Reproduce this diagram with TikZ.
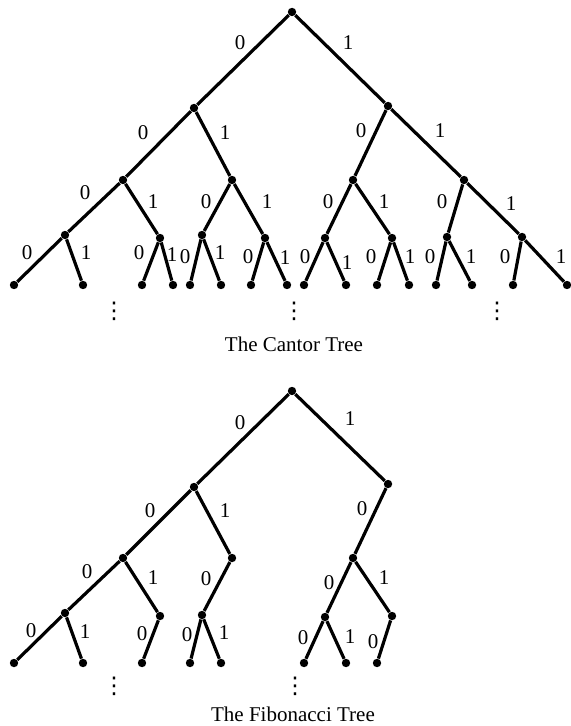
\documentclass[tikz,border=0pt]{standalone}
\usepackage{fontspec}
\setmainfont{Liberation Serif}
\newfontfamily\symfont{DejaVu Sans}
\usepackage{tikz}

\begin{document}
\begin{tikzpicture}[
  x=0.5pt, y=-0.5pt,
  vtx/.style={circle, fill, inner sep=0pt, minimum size=4.2pt},
  br/.style={line width=1.6pt},
  lbl/.style={inner sep=0pt, font=\fontsize{10.5}{12}\selectfont},
  title/.style={inner sep=0pt, font=\fontsize{10.5}{12}\selectfont},
  cont/.style={inner sep=0pt, font=\symfont\fontsize{11.5}{12}\selectfont}
]
\useasboundingbox (0,0) rectangle (570,726);

% Cantor tree: vertices
\foreach \n/\x/\y in {r/292/12, 0/194/108, 1/388/106,
    00/123/180, 01/232/180, 10/353/180, 11/464/180,
    000/65/235, 001/160/238, 010/202/235, 011/265/238,
    100/325/238, 101/392/238, 110/447/237, 111/522/237,
    0000/14/285, 0001/83/285, 0010/142/285, 0011/173/285,
    0100/190/285, 0101/221/285, 0110/251/285, 0111/287/285,
    1000/304/285, 1001/346/285, 1010/377/285, 1011/409/285,
    1100/436/285, 1101/472/285, 1110/513/285, 1111/567/285}
  \node[vtx] (c\n) at (\x,\y) {};

% Cantor tree: branches and digits
\foreach \p/\c/\t/\lx/\ly in {r/0/0/240/43, r/1/1/348/43,
    0/00/0/143/133, 0/01/1/225/133, 1/10/0/361/131, 1/11/1/440/131,
    00/000/0/85/193, 00/001/1/153/202, 01/010/0/206/202, 01/011/1/267/202,
    10/100/0/328/202, 10/101/1/384/202, 11/110/0/442/202, 11/111/1/511/204,
    000/0000/0/27/253, 000/0001/1/86/253, 001/0010/0/139/253, 001/0011/1/172/255,
    010/0100/0/185/257, 010/0101/1/220/253, 011/0110/0/248/257, 011/0111/1/285/258,
    100/1000/0/305/257, 100/1001/1/347/263, 101/1010/0/371/257, 101/1011/1/410/257,
    110/1100/0/430/257, 110/1101/1/471/257, 111/1110/0/505/257, 111/1111/1/561/257}
{
  \draw[br] (c\p) -- (c\c);
  \node[lbl] (lc\c) at (\lx,\ly) {\t};
}

\node[cont] (cdots1) at (114,311) {⋮};
\node[cont] (cdots2) at (294,311) {⋮};
\node[cont] (cdots3) at (497,311) {⋮};
\node[title] (ccap) at (294,344) {The Cantor Tree};

% Fibonacci tree: vertices
\foreach \n/\x/\y in {r/292/391, 0/194/487, 1/388/484,
    00/123/558, 01/232/558, 10/353/558,
    000/65/613, 001/160/616, 010/202/615, 100/325/617, 101/392/616,
    0000/14/663, 0001/83/663, 0010/142/663, 0100/190/663,
    0101/221/663, 1000/304/663, 1001/346/663, 1010/377/663}
  \node[vtx] (f\n) at (\x,\y) {};

% Fibonacci tree: branches and digits
\foreach \p/\c/\t/\lx/\ly in {r/0/0/240/423, r/1/1/350/419,
    0/00/0/150/511, 0/01/1/225/511, 1/10/0/362/509,
    00/000/0/87/572, 00/001/1/153/578, 01/010/0/206/579,
    10/100/0/329/583, 10/101/1/384/578,
    000/0000/0/31/631, 000/0001/1/85/632, 001/0010/0/142/634,
    010/0100/0/187/635, 010/0101/1/224/633,
    100/1000/0/303/638, 100/1001/1/350/637, 101/1010/0/373/642}
{
  \draw[br] (f\p) -- (f\c);
  \node[lbl] (lf\c) at (\lx,\ly) {\t};
}

\node[cont] (fdots1) at (114,686) {⋮};
\node[cont] (fdots2) at (295,686) {⋮};
\node[title] (fcap) at (293,714) {The Fibonacci Tree};
\end{tikzpicture}
\end{document}
